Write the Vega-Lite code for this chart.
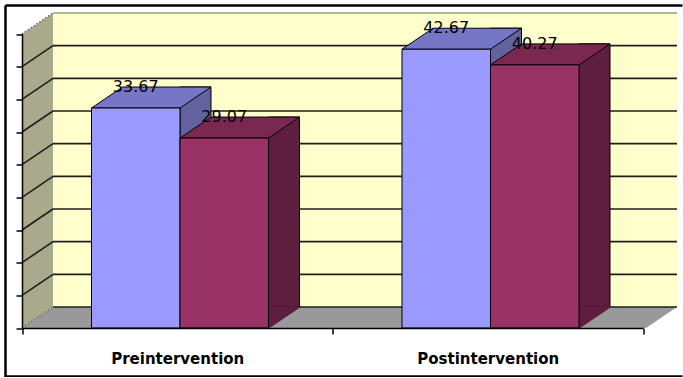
{
  "$schema": "https://vega.github.io/schema/vega-lite/v6.json",
  "width": 677,
  "height": 371,
  "autosize": {"type": "none"},
  "padding": {"left": 5.5, "top": 5.5, "right": 0, "bottom": 0},
  "background": "white",
  "config": {
    "font": "DejaVu Sans",
    "view": {"fill": "white", "stroke": "black", "strokeWidth": 2.5, "strokeDash": [677, 371, 1048, 0]}
  },
  "datasets": {
    "scores": [
      {"phase": "Preintervention", "series": "Series1", "score": 33.67},
      {"phase": "Preintervention", "series": "Series2", "score": 29.07},
      {"phase": "Postintervention", "series": "Series1", "score": 42.67},
      {"phase": "Postintervention", "series": "Series2", "score": 40.27}
    ],
    "ticks": [
      {"v": 0}, {"v": 5}, {"v": 10}, {"v": 15}, {"v": 20},
      {"v": 25}, {"v": 30}, {"v": 35}, {"v": 40}, {"v": 45}
    ],
    "origin": [{"id": 1}]
  },
  "layer": [
    {
      "description": "back wall; also carries the shared scales and axes",
      "data": {"name": "origin"},
      "mark": {"type": "rect", "fill": "#FFFFCC", "xOffset": 31, "x2Offset": 34, "yOffset": -21, "y2Offset": -21},
      "encoding": {
        "x": {
          "datum": "Preintervention",
          "bandPosition": 0,
          "type": "nominal",
          "scale": {"domain": ["Preintervention", "Postintervention"], "range": [16.5, 637.5], "paddingInner": 0, "paddingOuter": 0},
          "axis": {
            "title": null,
            "orient": "bottom",
            "offset": -48.5,
            "grid": false,
            "domainColor": "black",
            "domainWidth": 1.5,
            "tickBand": "extent",
            "tickSize": 6,
            "tickColor": "black",
            "tickWidth": 1.5,
            "labelAngle": 0,
            "labelFont": "DejaVu Sans",
            "labelFontSize": 15,
            "labelFontWeight": "bold",
            "labelColor": "black",
            "labelPadding": 17,
            "zindex": 1
          }
        },
        "x2": {"datum": "Postintervention", "bandPosition": 1},
        "y": {
          "datum": 45,
          "type": "quantitative",
          "scale": {"domain": [0, 45], "range": [322.5, 28.5], "nice": false, "zero": true},
          "axis": {
            "title": null,
            "orient": "left",
            "offset": -16.5,
            "values": [0, 5, 10, 15, 20, 25, 30, 35, 40, 45],
            "labels": false,
            "grid": false,
            "domainColor": "black",
            "domainWidth": 1.5,
            "tickSize": 6,
            "tickColor": "black",
            "tickWidth": 1.5,
            "zindex": 1
          }
        },
        "y2": {"datum": 0}
      }
    },
    {
      "description": "floor",
      "data": {"name": "origin"},
      "mark": {"type": "point", "shape": "M0,0L624,0L655,-21L31,-21Z", "size": 4, "filled": true, "fill": "#999999", "opacity": 1, "strokeWidth": 0},
      "encoding": {
        "x": {"datum": "Preintervention", "bandPosition": 0},
        "y": {"datum": 0}
      }
    },
    {
      "description": "side wall",
      "data": {"name": "origin"},
      "mark": {"type": "point", "shape": "M0,0L0,-294L31,-315L31,-21Z", "size": 4, "filled": true, "fill": "#A9A98B", "opacity": 1, "strokeWidth": 0},
      "encoding": {
        "x": {"datum": "Preintervention", "bandPosition": 0},
        "y": {"datum": 0}
      }
    },
    {
      "description": "gridlines on the back wall",
      "data": {"name": "ticks"},
      "transform": [{"filter": "datum.v < 45"}],
      "mark": {"type": "rule", "stroke": "#1e1e1e", "strokeWidth": 1.6, "xOffset": 31, "x2Offset": 34, "yOffset": -21},
      "encoding": {
        "x": {"datum": "Preintervention", "bandPosition": 0},
        "x2": {"datum": "Postintervention", "bandPosition": 1},
        "y": {"field": "v", "type": "quantitative"}
      }
    },
    {
      "description": "top edge of the back wall",
      "data": {"name": "origin"},
      "mark": {"type": "rule", "stroke": "#B4B496", "strokeWidth": 2, "xOffset": 31, "x2Offset": 34, "yOffset": -21},
      "encoding": {
        "x": {"datum": "Preintervention", "bandPosition": 0},
        "x2": {"datum": "Postintervention", "bandPosition": 1},
        "y": {"datum": 45}
      }
    },
    {
      "description": "gridlines on the side wall",
      "data": {"name": "ticks"},
      "transform": [{"filter": "datum.v > 0 && datum.v < 45"}],
      "mark": {"type": "rule", "stroke": "#1e1e1e", "strokeWidth": 1.6, "x2Offset": 31, "y2Offset": -21},
      "encoding": {
        "x": {"datum": "Preintervention", "bandPosition": 0},
        "x2": {"datum": "Preintervention", "bandPosition": 0},
        "y": {"field": "v", "type": "quantitative"},
        "y2": {"field": "v"}
      }
    },
    {
      "description": "dotted top and bottom edges of the side wall",
      "data": {"name": "ticks"},
      "transform": [{"filter": "datum.v == 0 || datum.v == 45"}],
      "mark": {"type": "rule", "stroke": "#707070", "strokeWidth": 1.6, "strokeDash": [1.5, 2], "x2Offset": 31, "y2Offset": -21},
      "encoding": {
        "x": {"datum": "Preintervention", "bandPosition": 0},
        "x2": {"datum": "Preintervention", "bandPosition": 0},
        "y": {"field": "v", "type": "quantitative"},
        "y2": {"field": "v"}
      }
    },
    {
      "description": "Series1 side face",
      "data": {"name": "scores"},
      "transform": [{"filter": "datum.series == 'Series1'"}],
      "mark": {"type": "bar", "width": 31, "xOffset": 18.25, "yOffset": -21, "y2Offset": -21, "fill": "#62629E", "stroke": "black", "strokeWidth": 1},
      "encoding": {
        "x": {"field": "phase", "type": "nominal"},
        "y": {"field": "score", "type": "quantitative"},
        "y2": {"datum": 0}
      }
    },
    {
      "description": "Series1 side face, lower corner",
      "data": {"name": "scores"},
      "transform": [{"filter": "datum.series == 'Series1'"}],
      "mark": {"type": "point", "shape": "M0,0L31,-21L0,-21Z", "size": 4, "filled": true, "fill": "#62629E", "stroke": "#62629E", "strokeWidth": 1.5, "opacity": 1, "xOffset": 2.75},
      "encoding": {
        "x": {"field": "phase", "type": "nominal"},
        "y": {"datum": 0}
      }
    },
    {
      "description": "Series1 top face",
      "data": {"name": "scores"},
      "transform": [{"filter": "datum.series == 'Series1'"}],
      "mark": {"type": "point", "shape": "M-44.25,0L44.25,0L75.25,-21L-13.25,-21Z", "size": 4, "filled": true, "fill": "#7676C6", "stroke": "black", "strokeWidth": 1, "opacity": 1, "xOffset": -41.5},
      "encoding": {
        "x": {"field": "phase", "type": "nominal"},
        "y": {"field": "score", "type": "quantitative"}
      }
    },
    {
      "description": "Series1 front face",
      "data": {"name": "scores"},
      "transform": [{"filter": "datum.series == 'Series1'"}],
      "mark": {"type": "bar", "width": 88.5, "xOffset": -41.5, "fill": "#9999FF", "stroke": "black", "strokeWidth": 1},
      "encoding": {
        "x": {"field": "phase", "type": "nominal"},
        "y": {"field": "score", "type": "quantitative"}
      }
    },
    {
      "description": "Series2 side face",
      "data": {"name": "scores"},
      "transform": [{"filter": "datum.series == 'Series2'"}],
      "mark": {"type": "bar", "width": 31, "xOffset": 106.75, "yOffset": -21, "y2Offset": -21, "fill": "#5E1E40", "stroke": "black", "strokeWidth": 1},
      "encoding": {
        "x": {"field": "phase", "type": "nominal"},
        "y": {"field": "score", "type": "quantitative"},
        "y2": {"datum": 0}
      }
    },
    {
      "description": "Series2 side face, lower corner",
      "data": {"name": "scores"},
      "transform": [{"filter": "datum.series == 'Series2'"}],
      "mark": {"type": "point", "shape": "M0,0L31,-21L0,-21Z", "size": 4, "filled": true, "fill": "#5E1E40", "stroke": "#5E1E40", "strokeWidth": 1.5, "opacity": 1, "xOffset": 91.25},
      "encoding": {
        "x": {"field": "phase", "type": "nominal"},
        "y": {"datum": 0}
      }
    },
    {
      "description": "Series2 top face",
      "data": {"name": "scores"},
      "transform": [{"filter": "datum.series == 'Series2'"}],
      "mark": {"type": "point", "shape": "M-44.25,0L44.25,0L75.25,-21L-13.25,-21Z", "size": 4, "filled": true, "fill": "#7A2850", "stroke": "black", "strokeWidth": 1, "opacity": 1, "xOffset": 47},
      "encoding": {
        "x": {"field": "phase", "type": "nominal"},
        "y": {"field": "score", "type": "quantitative"}
      }
    },
    {
      "description": "Series2 front face",
      "data": {"name": "scores"},
      "transform": [{"filter": "datum.series == 'Series2'"}],
      "mark": {"type": "bar", "width": 88.5, "xOffset": 47, "fill": "#993366", "stroke": "black", "strokeWidth": 1},
      "encoding": {
        "x": {"field": "phase", "type": "nominal"},
        "y": {"field": "score", "type": "quantitative"}
      }
    },
    {
      "description": "Series1 value labels on the back top edge",
      "data": {"name": "scores"},
      "transform": [{"filter": "datum.series == 'Series1'"}],
      "mark": {"type": "text", "baseline": "middle", "align": "center", "xOffset": -41.5, "yOffset": -21, "fontSize": 16, "font": "DejaVu Sans", "fill": "black"},
      "encoding": {
        "x": {"field": "phase", "type": "nominal"},
        "y": {"field": "score", "type": "quantitative"},
        "text": {"field": "score", "type": "quantitative", "format": ".2f"}
      }
    },
    {
      "description": "Series2 value labels on the back top edge",
      "data": {"name": "scores"},
      "transform": [{"filter": "datum.series == 'Series2'"}],
      "mark": {"type": "text", "baseline": "middle", "align": "center", "xOffset": 47, "yOffset": -21, "fontSize": 16, "font": "DejaVu Sans", "fill": "black"},
      "encoding": {
        "x": {"field": "phase", "type": "nominal"},
        "y": {"field": "score", "type": "quantitative"},
        "text": {"field": "score", "type": "quantitative", "format": ".2f"}
      }
    }
  ]
}
